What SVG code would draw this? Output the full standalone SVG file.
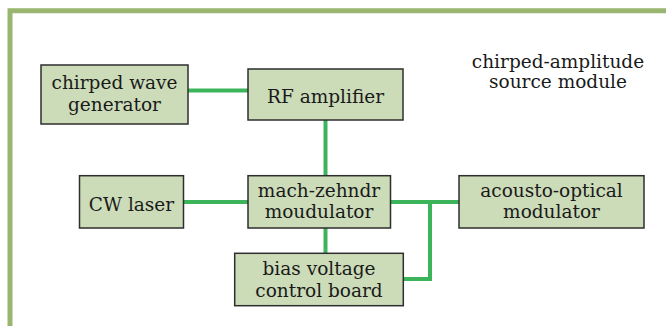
<svg xmlns="http://www.w3.org/2000/svg" width="666" height="326" viewBox="0 0 666 326">
<style>
.frame{fill:none;stroke:#9ab56f;stroke-width:5}
.box{fill:#ccdbb8;stroke:#2e2e2e;stroke-width:1.5}
.t{font-family:"DejaVu Serif","Liberation Serif",serif;font-size:18.5px;fill:#1a1a1a;text-anchor:middle}
.c{fill:none;stroke:#3cb55a;stroke-width:4}
</style>
<rect width="666" height="326" fill="#ffffff"/>
<path class="frame" d="M10 326 V10.8 H666"/>
<text class="t" x="558" y="68">chirped-amplitude</text>
<text class="t" x="558" y="88">source module</text>
<g id="connectors">
<line class="c" x1="188" y1="90.5" x2="248" y2="90.5"/>
<line class="c" x1="325.5" y1="120" x2="325.5" y2="176"/>
<line class="c" x1="183.5" y1="202" x2="248" y2="202"/>
<line class="c" x1="325.5" y1="228" x2="325.5" y2="253"/>
<line class="c" x1="390.5" y1="202" x2="459" y2="202"/>
<polyline class="c" points="430,202 430,279 403,279"/>
</g>
<g id="chirped-wave-generator">
<rect class="box" x="41" y="65" width="147" height="59"/>
<text class="t" x="114.5" y="89">chirped wave</text>
<text class="t" x="114.5" y="110.5">generator</text>
</g>
<g id="rf-amplifier">
<rect class="box" x="248" y="69" width="155" height="51"/>
<text class="t" x="325.5" y="102.5">RF amplifier</text>
</g>
<g id="cw-laser">
<rect class="box" x="79.5" y="175.7" width="104" height="52.3"/>
<text class="t" x="131.5" y="210.5">CW laser</text>
</g>
<g id="mach-zehndr-modulator">
<rect class="box" x="248" y="175.7" width="142.5" height="52.3"/>
<text class="t" x="319" y="196.5">mach-zehndr</text>
<text class="t" x="319" y="218">moudulator</text>
</g>
<g id="acousto-optical-modulator">
<rect class="box" x="459" y="175.7" width="185" height="52.3"/>
<text class="t" x="551.5" y="196.5">acousto-optical</text>
<text class="t" x="551.5" y="218">modulator</text>
</g>
<g id="bias-voltage-control-board">
<rect class="box" x="234.7" y="253.3" width="168.6" height="52.4"/>
<text class="t" x="319" y="275">bias voltage</text>
<text class="t" x="319" y="297">control board</text>
</g>
</svg>
